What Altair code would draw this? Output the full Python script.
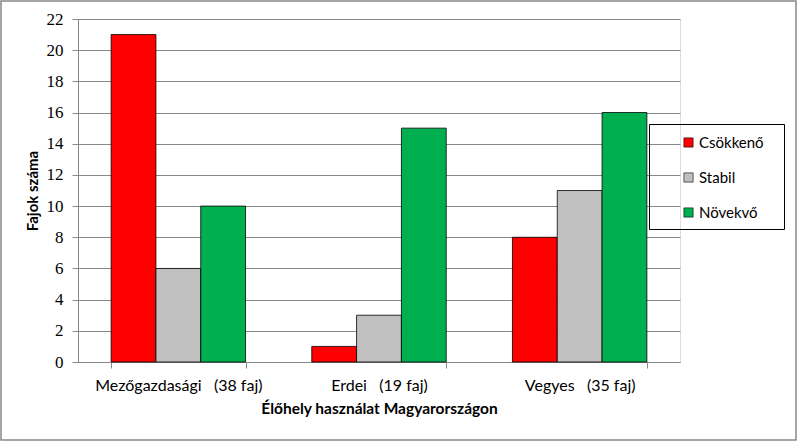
import altair as alt
import pandas as pd

NB = "\u00a0"
categories = ["Mezőgazdasági" + NB * 2 + " (38 faj)", "Erdei" + NB * 2 + " (19 faj)", "Vegyes" + NB * 2 + " (35 faj)"]
series = ["Csökkenő", "Stabil", "Növekvő"]
csokkeno = [21, 1, 8]
stabil = [6, 3, 11]
novekvo = [10, 15, 16]
colors = ["#FF0000", "#C0C0C0", "#00B050"]
y_ticks = list(range(0, 23, 2))

rows = []
for s, vals in zip(series, [csokkeno, stabil, novekvo]):
    for c, v in zip(categories, vals):
        rows.append({"cat": c, "series": s, "value": v})
df = pd.DataFrame(rows)

W, H = 602, 343

bars = alt.Chart(df).mark_bar(stroke="#000000", strokeWidth=0.8).encode(
    x=alt.X("cat:N", sort=categories,
            scale=alt.Scale(paddingInner=0.33, paddingOuter=0.165),
            axis=alt.Axis(title="Élőhely használat Magyarországon", labelAngle=0,
                          tickBand="extent", tickSize=6, tickColor="#888888",
                          domainColor="#888888", labelFont="Lato", labelFontSize=16,
                          labelColor="#000000", labelPadding=9,
                          titleFont="Lato", titleFontSize=15.5, titleFontWeight="bold",
                          titleColor="#000000", titlePadding=8)),
    xOffset=alt.XOffset("series:N", sort=series),
    y=alt.Y("value:Q", scale=alt.Scale(domain=[0, 22], nice=False),
            axis=alt.Axis(title="Fajok száma", values=y_ticks, grid=True,
                          gridColor="#888888", gridWidth=1, tickSize=6,
                          tickColor="#888888", domainColor="#888888",
                          labelFont="Liberation Serif", labelFontSize=17,
                          labelColor="#000000", labelPadding=9,
                          titleFont="Lato", titleFontSize=15, titleFontWeight="bold",
                          titleColor="#000000", titlePadding=6)),
    color=alt.Color("series:N", sort=series,
                    scale=alt.Scale(domain=series, range=colors),
                    legend=alt.Legend(title=None, orient="none", legendX=603, legendY=116,
                                      padding=0, rowPadding=19, symbolType="square",
                                      symbolSize=85, symbolStrokeColor="#000000",
                                      symbolStrokeWidth=0.6, labelFont="Lato",
                                      labelFontSize=15, labelColor="#000000",
                                      labelOffset=3, symbolOpacity=1)),
)

legend_box = alt.Chart(pd.DataFrame({"a": [0]})).mark_rect(
    fill=None, stroke="#000000", strokeWidth=1).encode(
    x=alt.value(571.5), x2=alt.value(706.5), y=alt.value(105.5), y2=alt.value(210.5))

border = alt.Chart(pd.DataFrame({"a": [0]})).mark_rect(
    fill=None, stroke="#888888", strokeWidth=1.5).encode(
    x=alt.value(-77), x2=alt.value(718), y=alt.value(-18), y2=alt.value(421))

chart = alt.layer(bars, legend_box, border).properties(
    width=W, height=H,
    autosize=alt.AutoSizeParams(type="none"),
    padding={"left": 78, "top": 19, "right": 118, "bottom": 80},
).configure_view(stroke=None).configure(background="#FFFFFF")

chart.save("out.html", embed_options={"renderer": "svg", "actions": False})
